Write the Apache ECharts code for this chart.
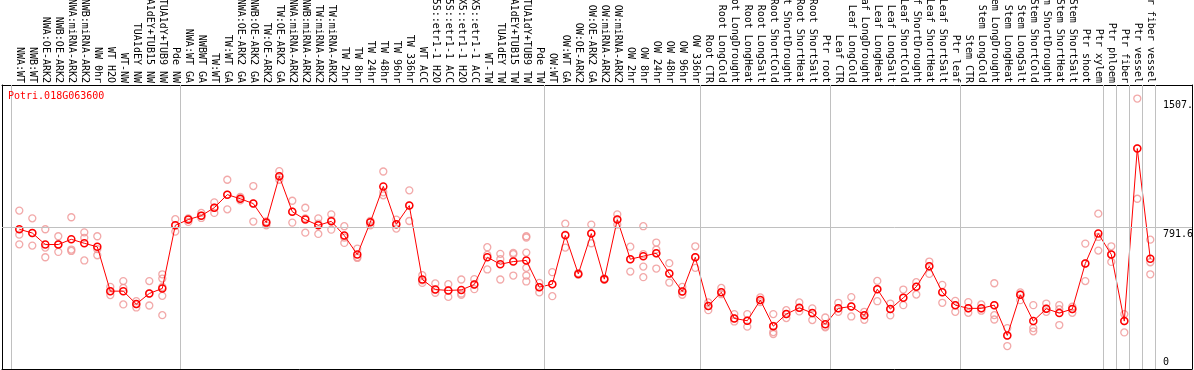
<!DOCTYPE html>
<html><head><meta charset="utf-8">
<script src="https://cdn.jsdelivr.net/npm/echarts@6/dist/echarts.min.js"></script>
<style>html,body{margin:0;padding:0;background:#fff}#c{width:1194px;height:370px}</style>
</head><body><div id="c"></div><script>
const chartTitle = 'Potri.018G063600';
const categories = [
'NWA:WT','NWB:WT','NWA:OE-ARK2','NWB:OE-ARK2','NWA:miRNA-ARK2','NWB:miRNA-ARK2','NW 0hr','WT H2O','WT-NW','TUA1dEY NW','TUA1dEY+TUB15 NW','TUA1dY+TUB9 NW','Pde NW',
'NWA:WT GA','NWBWT GA','TW:WT','TW:WT GA','NWA:OE-ARK2 GA','NWB:OE-ARK2 GA','TW:OE-ARK2','TW:OE-ARK2 GA','NWA:miRNA-ARK2','NWB:miRNA-ARK2','TW:miRNA-ARK2','TW:miRNA-ARK2','TW 2hr','TW 8hr','TW 24hr','TW 48hr','TW 96hr','TW 336hr','WT ACC','35S::etr1-1 H2O','35S::etr1-1 ACC','LMX5::etr1-1 H2O','LMX5::etr1-1 ACC','WT-TW','TUA1dEY TW','TUA1dEY+TUB15 TW','TUA1dY+TUB9 TW','Pde TW',
'OW:WT','OW:WT GA','OW:OE-ARK2','OW:OE-ARK2 GA','OW:miRNA-ARK2','OW:miRNA-ARK2','OW 2hr','OW 8hr','OW 24hr','OW 48hr','OW 96hr','OW 336hr',
'Root CTR','Root LongCold','Root LongDrought','Root LongHeat','Root LongSalt','Root ShortCold','Root ShortDrought','Root ShortHeat','Root ShortSalt','Ptr root',
'Leaf CTR','Leaf LongCold','Leaf LongDrought','Leaf LongHeat','Leaf LongSalt','Leaf ShortCold','Leaf ShortDrought','Leaf ShortHeat','Leaf ShortSalt','Ptr leaf',
'Stem CTR','Stem LongCold','Stem LongDrought','Stem LongHeat','Stem LongSalt','Stem ShortCold','Stem ShortDrought','Stem ShortHeat','Stem ShortSalt','Ptr shoot','Ptr xylem',
'Ptr phloem','Ptr fiber','Ptr vessel','Ptr fiber vessel'
];
const groupSizes = [13, 28, 12, 10, 10, 11, 1, 1, 1, 1];
const means = [
779, 758, 694, 694, 723, 701, 681, 434, 434, 362, 421, 449, 801,
833, 855, 899, 972, 949, 922, 816, 1074, 877, 833, 801, 823, 744, 638, 818, 1018, 807, 911, 499, 443, 438, 441, 471, 623, 584, 599, 605, 456,
473, 745, 530, 755, 501, 833, 612, 629, 645, 532, 432, 623,
351, 428, 282, 269, 384, 239, 306, 341, 312, 249,
338, 349, 299, 445, 334, 397, 458, 573, 428, 356,
338, 338, 356, 187, 414, 267, 336, 312, 334, 588, 755,
638, 267, 1229, 614
];
const replicates = [
[883,749,695],[840,758,688],[779,677,623],[740,694,653],[846,666,658],[762,731,605],[740,668,634],[458,434,412],[490,452,360],[378,362,343],[490,421,354],[528,504,457,408,300],[835,801,766],
[840,833,820],[870,855,842],[929,899,870],[1055,972,890],[959,949,940],[1020,922,822],[823,816,801],[1103,1074,1055],[938,877,816],[899,840,760],[840,810,753],[862,830,777],[796,733,703],[671,624,619],[826,818,801],[1101,985,968],[833,807,783],[996,911,825],[523,494,480],[477,443,425],[473,438,402],[499,421,413],[501,471,445],[679,636,555],[642,612,499],[647,640,521],[740,733,649,564,521,488],[480,456,427],
[540,473,406],[810,749,677],[535,530,525],[805,755,701],[505,501,497],[862,833,805],[682,612,543],[796,640,571,512],[705,666,645,560],[590,532,482],[458,432,414],[684,623,564],
[371,351,328],[452,428,417],[306,282,265],[306,269,236],[399,384,373],[306,240,206,195],[328,306,284],[371,341,321],[338,312,273],[287,236,232],
[369,338,319],[401,349,293],[319,299,274],[491,445,378],[365,334,299],[443,397,356],[484,458,415],[599,573,530],[469,428,369],[380,356,319],
[373,338,313],[360,338,325],[478,356,300,276],[228,187,128],[427,414,384],[356,228,210],[365,336,319],[356,333,245],[347,334,313],[699,588,490],[866,736,660],
[684,638,597],[306,267,204],[1507.8,1230,949],[721,595,528]
];
const yMax = 1583.2;
const yGridValue = 791.6;
const yTickValues = [0, 791.6, 1507.8];
const yTickLabels = ['0', '791.6', '1507.'];

const FONT = 'DejaVu Sans Mono';
const chart = echarts.init(document.getElementById('c'), null, {renderer: 'canvas'});

const boundaries = [];
let acc = 0;
boundaries.push(acc);
groupSizes.forEach(s => { acc += s; boundaries.push(acc); });

const repData = [];
replicates.forEach((arr, k) => arr.forEach(v => repData.push([k, v])));
const meanData = means.map((v, k) => [k, v]);

const xMin = -1.3308, xMax = 90.208;
const commonX = {type: 'value', min: xMin, max: xMax, splitLine: {show: false}, axisTick: {show: false}};
const commonY = {type: 'value', min: 0, max: yMax, splitLine: {show: false}, axisTick: {show: false}};

chart.setOption({
  animation: false,
  backgroundColor: '#fff',
  title: {text: chartTitle, left: 8, top: 91, padding: 0,
    textStyle: {fontFamily: FONT, fontSize: 10, fontWeight: 'normal', color: '#ff0000'}},
  grid: {left: 2, right: 2, top: 85, bottom: 1, containLabel: false, outerBoundsMode: 'none'},
  xAxis: [
    Object.assign({}, commonX, {position: 'top',
      axisLine: {show: true, onZero: false, lineStyle: {color: '#000', width: 1}},
      axisLabel: {show: true, rotate: 90, margin: 2, fontFamily: FONT, fontSize: 10, color: '#000',
        customValues: categories.map((c, i) => i),
        formatter: v => categories[Math.round(v)] || ''}}),
    Object.assign({}, commonX, {position: 'bottom',
      axisLine: {show: true, onZero: false, lineStyle: {color: '#000', width: 1}},
      axisLabel: {show: false}})
  ],
  yAxis: [
    Object.assign({}, commonY, {position: 'right',
      axisLine: {show: true, onZero: false, lineStyle: {color: '#000', width: 1}},
      axisLabel: {show: true, inside: true, margin: 29, align: 'left', fontFamily: FONT, fontSize: 10, color: '#000',
        verticalAlign: 'top', verticalAlignMinLabel: 'bottom', padding: [2, 0, 2, 0],
        customValues: yTickValues,
        formatter: (v) => { const i = yTickValues.findIndex(t => Math.abs(t - v) < 1e-6); return i >= 0 ? yTickLabels[i] : ''; }}}),
    Object.assign({}, commonY, {position: 'left',
      axisLine: {show: true, onZero: false, lineStyle: {color: '#000', width: 1}},
      axisLabel: {show: false}})
  ],
  series: [
    {type: 'scatter', name: 'grid', data: [], z: 1, silent: true,
      markLine: {silent: true, symbol: ['none', 'none'], animation: false,
        label: {show: false},
        lineStyle: {color: '#c0c0c0', width: 1, type: 'solid'},
        emphasis: {disabled: true},
        data: boundaries.map(b => ({xAxis: b - 0.62})).concat([{yAxis: yGridValue}])}},
    {type: 'scatter', name: 'replicates', data: repData, z: 3, silent: true,
      symbol: 'circle', symbolSize: 7,
      itemStyle: {color: 'rgba(255,255,255,0)', borderColor: '#ef9494', borderWidth: 1.3}},
    {type: 'line', name: 'mean', data: meanData, z: 4, silent: true,
      symbol: 'circle', symbolSize: 7, showAllSymbol: true,
      lineStyle: {color: '#ff0000', width: 1},
      itemStyle: {color: 'rgba(255,255,255,0)', borderColor: '#ff0000', borderWidth: 1.5}}
  ]
});
</script></body></html>
